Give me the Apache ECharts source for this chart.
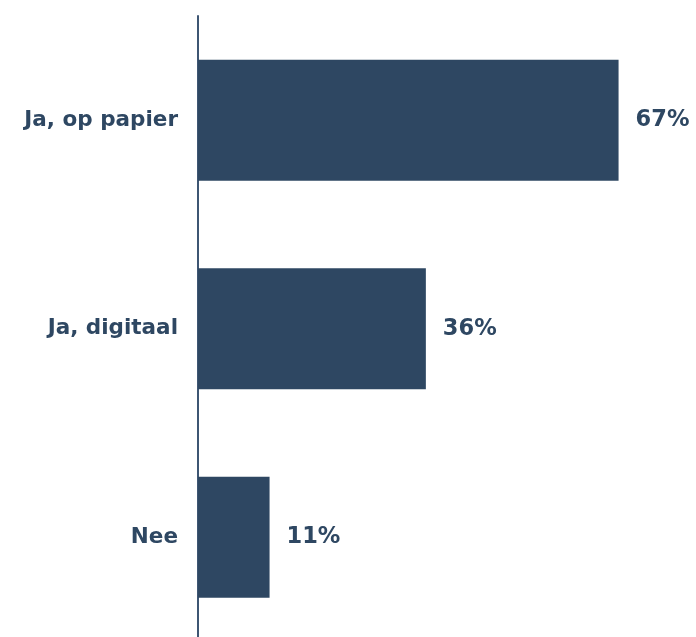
<!DOCTYPE html>
<html>
<head>
<meta charset="utf-8">
<script src="https://cdn.jsdelivr.net/npm/echarts@6/dist/echarts.min.js"></script>
<style>html,body{margin:0;padding:0;background:#fff}#c{width:696px;height:637px}</style>
</head>
<body>
<div id="c"></div>
<script>
const categories = ["Ja, op papier", "Ja, digitaal", "Nee"];
const values = [67, 36.3, 11.4];
const color = "#2e4762";
const font = "'DejaVu Sans', Verdana, sans-serif";
const chart = echarts.init(document.getElementById('c'), null, {renderer: 'canvas'});
chart.setOption({
  animation: false,
  grid: {left: 198, top: 16, width: 439.4, height: 625.4, containLabel: false, outerBoundsMode: 'none'},
  xAxis: {type: 'value', min: 0, max: 70, show: false},
  yAxis: {
    type: 'category', data: categories, inverse: true,
    axisLine: {show: true, lineStyle: {color: '#3e5673', width: 2}},
    axisTick: {show: false},
    axisLabel: {color: color, fontFamily: font, fontWeight: 'bold', fontSize: 21.5, margin: 20}
  },
  series: [{
    type: 'bar', data: values, barWidth: 121,
    itemStyle: {color: color},
    label: {show: true, position: 'right', distance: 17,
      formatter: p => Math.round(p.value) + '%', color: color,
      fontFamily: font, fontWeight: 'bold', fontSize: 22.5}
  }]
});
</script>
</body>
</html>
